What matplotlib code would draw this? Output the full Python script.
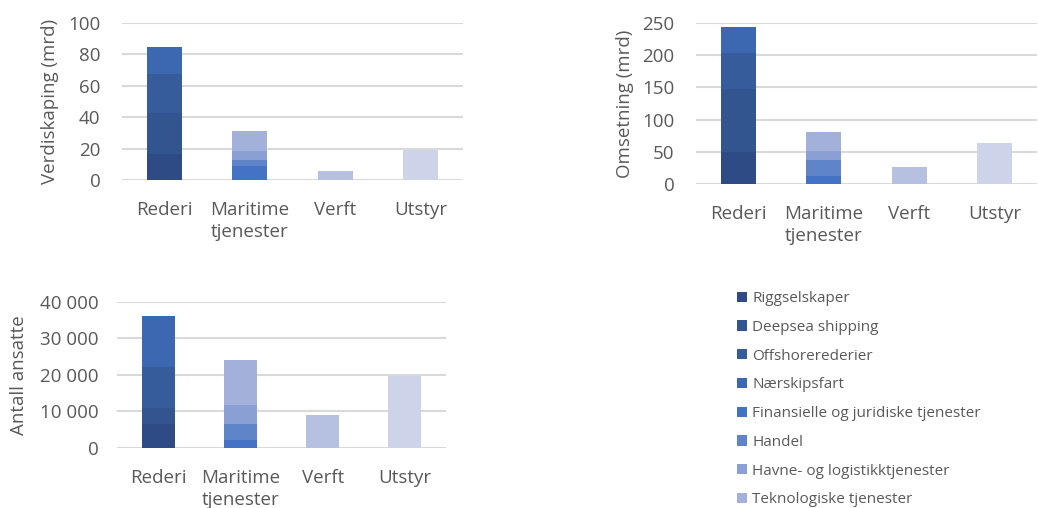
import matplotlib
matplotlib.use("Agg")
import matplotlib.pyplot as plt
from matplotlib.patches import Patch
from matplotlib.ticker import FuncFormatter

plt.rcParams['font.family'] = ['Open Sans', 'DejaVu Sans']

categories = ["Rederi", "Maritime\ntjenester", "Verft", "Utstyr"]

series_names = ["Riggselskaper", "Deepsea shipping", "Offshorerederier", "Nærskipsfart",
                "Finansielle og juridiske tjenester", "Handel",
                "Havne- og logistikktjenester", "Teknologiske tjenester", "Verft", "Utstyr"]
legend_count = 8

colors = ["#2e4b86", "#32548f", "#365c9b", "#3c67b1", "#4472c4", "#5f84c8",
          "#8a9fd4", "#a3b1da", "#b6c1e1", "#cdd4e9"]

# values per series, per category [Rederi, Maritime tjenester, Verft, Utstyr]
verdiskaping = {
    "Riggselskaper": [16.5, 0, 0, 0],
    "Deepsea shipping": [25.9, 0, 0, 0],
    "Offshorerederier": [25.0, 0, 0, 0],
    "Nærskipsfart": [17.1, 0, 0, 0],
    "Finansielle og juridiske tjenester": [0, 9.0, 0, 0],
    "Handel": [0, 3.7, 0, 0],
    "Havne- og logistikktjenester": [0, 5.7, 0, 0],
    "Teknologiske tjenester": [0, 12.7, 0, 0],
    "Verft": [0, 0, 5.8, 0],
    "Utstyr": [0, 0, 0, 19.3],
}
omsetning = {
    "Riggselskaper": [50.5, 0, 0, 0],
    "Deepsea shipping": [97.0, 0, 0, 0],
    "Offshorerederier": [55.5, 0, 0, 0],
    "Nærskipsfart": [40.5, 0, 0, 0],
    "Finansielle og juridiske tjenester": [0, 13.4, 0, 0],
    "Handel": [0, 24.2, 0, 0],
    "Havne- og logistikktjenester": [0, 13.9, 0, 0],
    "Teknologiske tjenester": [0, 29.4, 0, 0],
    "Verft": [0, 0, 27.3, 0],
    "Utstyr": [0, 0, 0, 63.9],
}
ansatte = {
    "Riggselskaper": [6500, 0, 0, 0],
    "Deepsea shipping": [4400, 0, 0, 0],
    "Offshorerederier": [11200, 0, 0, 0],
    "Nærskipsfart": [14000, 0, 0, 0],
    "Finansielle og juridiske tjenester": [0, 2100, 0, 0],
    "Handel": [0, 4400, 0, 0],
    "Havne- og logistikktjenester": [0, 5200, 0, 0],
    "Teknologiske tjenester": [0, 12300, 0, 0],
    "Verft": [0, 0, 8950, 0],
    "Utstyr": [0, 0, 0, 19650],
}

W, H = 1038, 508
fig = plt.figure(figsize=(W / 100, H / 100), dpi=100)
TXT = "#595959"
GRID = "#d9d9d9"
FS = 13.5

def px_axes(left, right, bottom, top):
    return fig.add_axes([left / W, (H - bottom) / H, (right - left) / W, (bottom - top) / H])

def draw(ax, data, ylim, step, ylabel, fmt=None, width=0.41, ypad=15.5):
    x = list(range(len(categories)))
    base = [0] * len(categories)
    for name, col in zip(series_names, colors):
        vals = data[name]
        ax.bar(x, vals, width=width, bottom=base, color=col, linewidth=0, zorder=3)
        base = [b + v for b, v in zip(base, vals)]
    ax.set_xlim(-0.5, len(categories) - 0.5)
    ax.set_ylim(0, ylim)
    ax.set_yticks(range(0, ylim + 1, step))
    if fmt:
        ax.yaxis.set_major_formatter(FuncFormatter(fmt))
    ax.set_xticks(x)
    ax.set_xticklabels(categories, linespacing=1.3)
    ax.grid(axis='y', color=GRID, linewidth=1.5, zorder=0)
    ax.set_axisbelow(True)
    for s in ax.spines.values():
        s.set_visible(False)
    ax.tick_params(axis='both', length=0, labelsize=FS, colors=TXT)
    ax.tick_params(axis='y', pad=ypad)
    ax.tick_params(axis='x', pad=15)
    ax.set_ylabel(ylabel, fontsize=FS, color=TXT)
    ax.yaxis.label.set_verticalalignment('center')

ax1 = px_axes(122, 463, 180, 22.7)
draw(ax1, verdiskaping, 100, 20, "Verdiskaping (mrd)")
ax1.yaxis.set_label_coords((50 - 122) / 341, 0.5)

ax2 = px_axes(696, 1037, 184.3, 22.7)
draw(ax2, omsetning, 250, 50, "Omsetning (mrd)")
ax2.yaxis.set_label_coords((625 - 696) / 341, 0.5)

ax3 = px_axes(117.3, 446, 447.7, 301.7)
draw(ax3, ansatte, 40000, 10000, "Antall ansatte",
     fmt=lambda v, p: f"{int(v):,}".replace(",", " "), width=0.40, ypad=13.5)
ax3.yaxis.set_label_coords((19 - 117.3) / 328.7, 0.5)

handles = [Patch(facecolor=c, edgecolor='none') for c in colors[:legend_count]]
fig.legend(handles, series_names[:legend_count], loc='upper left',
           bbox_to_anchor=(731 / W, 1 - 285 / H), frameon=False,
           fontsize=11, labelcolor=TXT, handlelength=0.65, handleheight=0.65,
           handletextpad=0.35, labelspacing=0.9, borderaxespad=0)

fig.savefig("out.png", dpi=100)
